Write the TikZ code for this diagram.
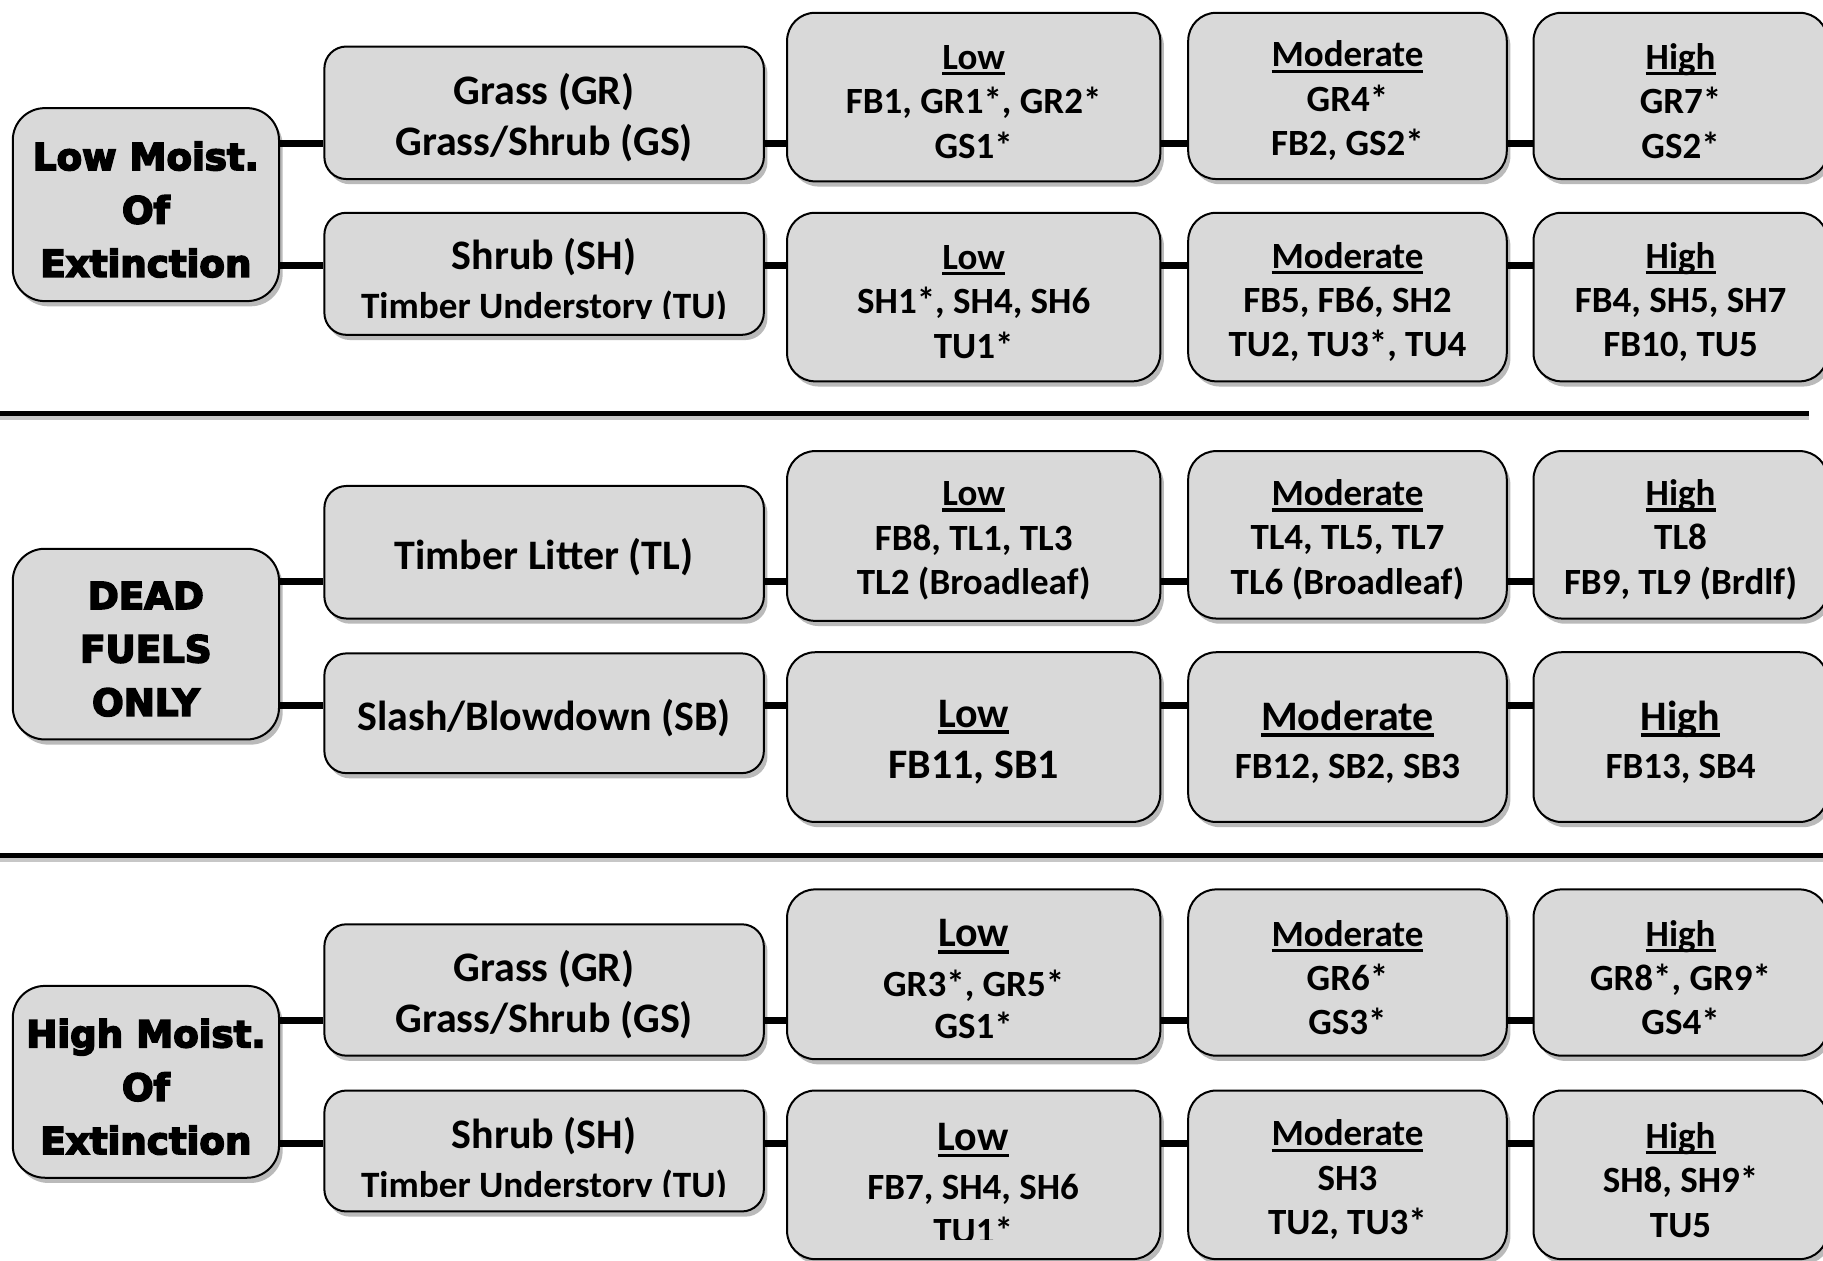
\documentclass[tikz,border=0pt]{standalone}
\usepackage{fontspec}
\setmainfont{Carlito}
\newfontfamily\heavyfont[FakeBold=4.5]{DejaVu Sans Bold}
\usetikzlibrary{shadows}
\definecolor{boxgray}{HTML}{D9D9D9}

% underlined heading with a fixed rule just under the baseline
\newcommand{\hdr}[1]{\setbox0\hbox{#1}\rlap{\rule[-0.16em]{\wd0}{0.09em}}\box0}
\newcommand{\bigtitle}[1]{{\fontsize{21}{22.2}\selectfont\hdr{#1}}}
\newcommand{\bodyfont}{\fontsize{18.5}{22.2}\selectfont}
\newcommand{\bigfont}{\fontsize{21}{25.6}\selectfont}
\newcommand{\keyfont}{\fontsize{18.6}{26.7}\selectfont\heavyfont}

% box from its corners (picture units) with its text set a little low:
% name, x1, y1, x2, y2, box style, text style, text
\newcommand{\fuelbox}[8]{%
  \node[#6, minimum width={(#4-#2)*0.58131pt}, minimum height={(#5-#3)*0.58131pt}]
    (#1) at ({(#2+#4)/2},{(#3+#5)/2}) {};
  \node[#7] (#1txt) at ([yshift=-2.5pt]#1.center) {#8};}
% one row of links at the height of coordinate #6
\newcommand{\linkrow}[6]{%
  \draw[link] (#1.east |- #6) -- (#2.west |- #6)
              (#2.east |- #6) -- (#3.west |- #6)
              (#3.east |- #6) -- (#4.west |- #6)
              (#4.east |- #6) -- (#5.west |- #6);}

\tikzset{
  base/.style={draw=black, line width=1pt, fill=boxgray, inner sep=0pt,
    drop shadow={shadow xshift=1.8pt, shadow yshift=-2.6pt, fill=black!60, opacity=0.45}},
  keybox/.style={base, rounded corners=16pt},
  typebox/.style={base, rounded corners=11pt},
  classbox/.style={base, rounded corners=14pt},
  keytext/.style={align=center, inner sep=0pt, font=\keyfont},
  typetext/.style={align=center, inner sep=0pt, font=\bfseries\bigfont},
  classtext/.style={align=center, inner sep=0pt, font=\bfseries\bodyfont},
  bigclasstext/.style={align=center, inner sep=0pt, font=\bfseries\bigfont},
  link/.style={line width=3.5pt, black},
  divider/.style={line width=2.4pt, black},
  divshade/.style={line width=2.4pt, black!22},
}

\begin{document}
\begin{tikzpicture}[x=0.58131pt, y=-0.58131pt]
\fill[white] (0,0) rectangle (1568,1084);
\useasboundingbox (0,0) rectangle (1568,1084);

% ---------- low moisture of extinction ----------
\fuelbox{kA}{11}{93}{240}{259}{keybox}{keytext}{Low Moist.\\Of\\Extinction}
\fuelbox{tA1}{279}{40}{657}{154}{typebox}{typetext}{Grass (GR)\\Grass/Shrub (GS)}
\node[typebox, minimum width={378*0.58131pt}, minimum height={105*0.58131pt}] (tA2) at (468,235.5) {};
\begin{scope}
  \clip (279,183) rectangle (657,274);
  \node[typetext] (tA2txt) at (468,242)
    {Shrub (SH)\\[-1.2pt]{\fontsize{18.6}{22}\selectfont Timber Understory (TU)}};
\end{scope}
\fuelbox{cA1L}{677}{11}{998}{156}{classbox}{classtext}{\hdr{Low}\\FB1, GR1*, GR2*\\GS1*}
\fuelbox{cA1M}{1022}{11}{1296}{154}{classbox}{classtext}{\hdr{Moderate}\\GR4*\\FB2, GS2*}
\fuelbox{cA1H}{1319}{11}{1572}{154}{classbox}{classtext}{\hdr{High}\\GR7*\\GS2*}
\fuelbox{cA2L}{677}{183}{998}{328}{classbox}{classtext}{\hdr{Low}\\SH1*, SH4, SH6\\TU1*}
\fuelbox{cA2M}{1022}{183}{1296}{328}{classbox}{classtext}{\hdr{Moderate}\\FB5, FB6, SH2\\TU2, TU3*, TU4}
\fuelbox{cA2H}{1319}{183}{1572}{328}{classbox}{classtext}{\hdr{High}\\FB4, SH5, SH7\\FB10, TU5}
\coordinate (yA1) at (0,123);
\coordinate (yA2) at (0,228.5);
\linkrow{kA}{tA1}{cA1L}{cA1M}{cA1H}{yA1}
\linkrow{kA}{tA2}{cA2L}{cA2M}{cA2H}{yA2}

% separator
\coordinate (sA1) at (0,355.5);
\coordinate (sA2) at (1556,355.5);
\draw[divshade] ([yshift=-2.2pt]sA1) -- ([yshift=-2.2pt]sA2);
\draw[divider] (sA1) -- (sA2);

% ---------- dead fuels only ----------
\fuelbox{kB}{11}{472}{240}{636}{keybox}{keytext}{DEAD\\FUELS\\ONLY}
\fuelbox{tB1}{279}{418}{657}{532}{typebox}{typetext}{Timber Litter (TL)}
\fuelbox{tB2}{279}{562}{657}{665}{typebox}{typetext}{Slash/Blowdown (SB)}
\fuelbox{cB1L}{677}{388}{998}{534}{classbox}{classtext}{\hdr{Low}\\FB8, TL1, TL3\\TL2 (Broadleaf)}
\fuelbox{cB1M}{1022}{388}{1296}{532}{classbox}{classtext}{\hdr{Moderate}\\TL4, TL5, TL7\\TL6 (Broadleaf)}
\fuelbox{cB1H}{1319}{388}{1572}{532}{classbox}{classtext}{\hdr{High}\\TL8\\FB9, TL9 (Brdlf)}
\fuelbox{cB2L}{677}{561}{998}{707}{classbox}{bigclasstext}{\hdr{Low}\\FB11, SB1}
\fuelbox{cB2M}{1022}{561}{1296}{707}{classbox}{classtext}{\bigtitle{Moderate}\\[2pt]FB12, SB2, SB3}
\fuelbox{cB2H}{1319}{561}{1572}{707}{classbox}{classtext}{\bigtitle{High}\\[2pt]FB13, SB4}
\coordinate (yB1) at (0,500.3);
\coordinate (yB2) at (0,606.4);
\linkrow{kB}{tB1}{cB1L}{cB1M}{cB1H}{yB1}
\linkrow{kB}{tB2}{cB2L}{cB2M}{cB2H}{yB2}

% separator
\coordinate (sB1) at (0,735.5);
\coordinate (sB2) at (1575,735.5);
\draw[divshade] ([yshift=-2.2pt]sB1) -- ([yshift=-2.2pt]sB2);
\draw[divider] (sB1) -- (sB2);

% ---------- high moisture of extinction ----------
\fuelbox{kC}{11}{848}{240}{1013}{keybox}{keytext}{High Moist.\\Of\\Extinction}
\fuelbox{tC1}{279}{795}{657}{908}{typebox}{typetext}{Grass (GR)\\Grass/Shrub (GS)}
\node[typebox, minimum width={378*0.58131pt}, minimum height={104*0.58131pt}] (tC2) at (468,990) {};
\begin{scope}
  \clip (279,938) rectangle (657,1029);
  \node[typetext] (tC2txt) at (468,998)
    {Shrub (SH)\\[-1.2pt]{\fontsize{18.6}{22}\selectfont Timber Understory (TU)}};
\end{scope}
\fuelbox{cC1L}{677}{765}{998}{911}{classbox}{classtext}{\bigtitle{Low}\\[2.8pt]GR3*, GR5*\\[-1.4pt]GS1*}
\fuelbox{cC1M}{1022}{765}{1296}{908}{classbox}{classtext}{\hdr{Moderate}\\GR6*\\GS3*}
\fuelbox{cC1H}{1319}{765}{1572}{908}{classbox}{classtext}{\hdr{High}\\GR8*, GR9*\\GS4*}
\node[classbox, minimum width={321*0.58131pt}, minimum height={145*0.58131pt}] (cC2L) at (837.5,1010.5) {};
\begin{scope}
  \clip (677,938) rectangle (998,1066);
  \node[classtext] (cC2Ltxt) at (837,1018)
    {\bigtitle{Low}\\[2pt]FB7, SH4, SH6\\TU1*};
\end{scope}
\fuelbox{cC2M}{1022}{938}{1296}{1083}{classbox}{classtext}{\hdr{Moderate}\\SH3\\TU2, TU3*}
\fuelbox{cC2H}{1319}{938}{1572}{1083}{classbox}{classtext}{\hdr{High}\\SH8, SH9*\\TU5}
\coordinate (yC1) at (0,877.4);
\coordinate (yC2) at (0,983.4);
\linkrow{kC}{tC1}{cC1L}{cC1M}{cC1H}{yC1}
\linkrow{kC}{tC2}{cC2L}{cC2M}{cC2H}{yC2}
\end{tikzpicture}
\end{document}
